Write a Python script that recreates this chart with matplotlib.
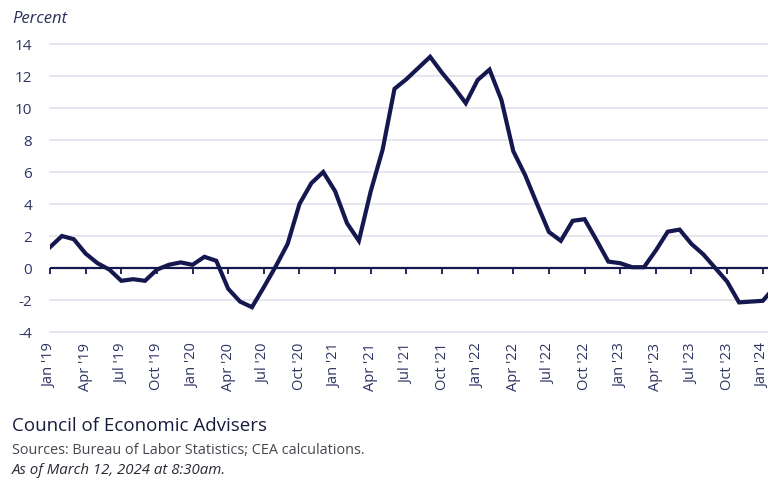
import numpy as np
import pandas as pd
import matplotlib
matplotlib.use("Agg")
import matplotlib.pyplot as plt

plt.rcParams['font.family'] = ['Open Sans', 'DejaVu Sans']

# monthly percent change, Jan 2019 - Feb 2024
values = [
    1.3, 2.0, 1.8, 0.9, 0.3, -0.1, -0.8, -0.7, -0.8, -0.1, 0.2, 0.35,
    0.2, 0.7, 0.45, -1.3, -2.1, -2.45, -1.2, 0.1, 1.5, 4.0, 5.3, 6.0,
    4.8, 2.8, 1.7, 4.8, 7.4, 11.2, 11.8, 12.5, 13.2, 12.2, 11.3, 10.3,
    11.75, 12.4, 10.5, 7.3, 5.8, 4.0, 2.25, 1.7, 2.95, 3.05, 1.75, 0.4,
    0.3, 0.05, 0.05, 1.1, 2.27, 2.4, 1.5, 0.85, 0.0, -0.85, -2.15, -2.1,
    -2.05, -1.2,
]
months = pd.date_range('2019-01-01', periods=len(values), freq='MS')
x = np.arange(len(values))

tick_idx = np.arange(0, len(values), 3)
tick_labels = [months[i].strftime("%b '%y") for i in tick_idx]
yticks = np.arange(-4, 15, 2)

navy = '#15184f'
label_col = '#2f3462'
grid_col = '#dfe0ea'

fig = plt.figure(figsize=(7.68, 4.8), dpi=100)
ax = fig.add_axes([50 / 768, 1 - 332 / 480, 718 / 768, 288 / 480])

ylo, yhi = -4, 14
ax.set_ylim(ylo, yhi)
ax.set_xlim(0, 60.44)

for y in yticks:
    if y != 0:
        ax.axhline(y, color=grid_col, lw=1.1, zorder=1, clip_on=False)
ax.axhline(0, color=navy, lw=1.6, zorder=2)

ax.plot(x, values, color=navy, lw=3.0, solid_joinstyle='miter', zorder=3)

for s in ax.spines.values():
    s.set_visible(False)

ax.set_yticks(yticks)
ax.set_yticklabels([str(v) for v in yticks])
ax.tick_params(axis='y', length=0, pad=13, labelsize=11, labelcolor=label_col)

ax.set_xticks(tick_idx)
ax.set_xticklabels(tick_labels, rotation=90)
ax.tick_params(axis='x', length=0, pad=8, labelsize=10.5, labelcolor=label_col)

# quarter ticks hanging from the zero line
zero_ax = ax.secondary_xaxis((0 - ylo) / (yhi - ylo))
zero_ax.set_xticks(tick_idx)
zero_ax.set_xticklabels([])
zero_ax.tick_params(axis='x', direction='out', length=4, width=1.3, color=navy)
for s in zero_ax.spines.values():
    s.set_visible(False)

fig.text(12 / 768, 1 - 19 / 480, 'Percent', fontsize=12, style='italic',
         color='#2c3058', va='center', ha='left')

fig.text(12 / 768, 1 - 426 / 480, 'Council of Economic Advisers', fontsize=13.5,
         color='#181c3c', va='center', ha='left')
fig.text(12 / 768, 1 - 450 / 480, 'Sources: Bureau of Labor Statistics; CEA calculations.',
         fontsize=10.4, color='#46464e', va='center', ha='left')
fig.text(12 / 768, 1 - 470 / 480, 'As of March 12, 2024 at 8:30am.', fontsize=10.8,
         style='italic', color='#2a2a33', va='center', ha='left')

fig.savefig('out.png', dpi=100)
